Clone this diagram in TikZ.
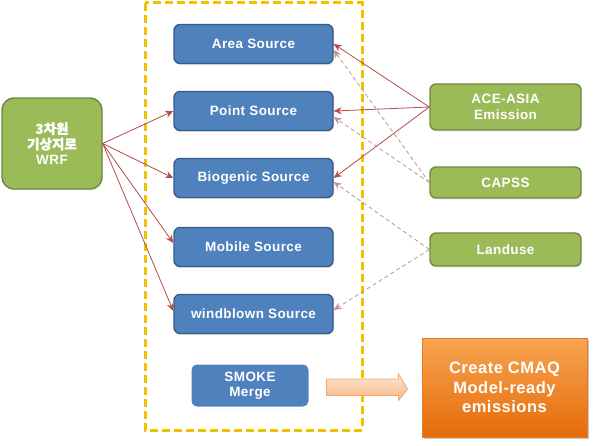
\documentclass[tikz,border=0pt]{standalone}
\usepackage{fontspec}
\setmainfont{Liberation Sans}[LetterSpace=3]
\newfontfamily\kr{Noto Sans CJK KR}[FakeBold=1.5]
\usetikzlibrary{arrows.meta,shadows,calc}
\definecolor{bluefill}{HTML}{4F81BD}
\definecolor{blueedge}{HTML}{385D8A}
\definecolor{greenfill}{HTML}{9BBB59}
\definecolor{greenedge}{HTML}{71893F}
\definecolor{ytrace}{HTML}{F2C100}
\definecolor{redline}{HTML}{B94A4A}
\definecolor{dashline}{HTML}{C09393}
\definecolor{orgtop}{HTML}{F9A451}
\definecolor{orgbot}{HTML}{E46C0A}
\definecolor{peachtop}{HTML}{FDE5D2}
\definecolor{peachbot}{HTML}{F9B887}
\definecolor{peachedge}{HTML}{F5A46A}
\tikzset{
  txt/.style={text=white, font=\fontsize{13.5}{15.5}\selectfont\bfseries, align=center},
  bluebox/.style={txt, rounded corners=6pt, fill=bluefill, draw=blueedge, line width=1.4pt,
     minimum width=159pt, minimum height=39pt, inner sep=0pt,
     drop shadow={opacity=0.25, shadow xshift=1pt, shadow yshift=-1.5pt}},
  greenbox/.style={txt, rounded corners=6pt, fill=greenfill, draw=greenedge, line width=1.4pt,
     minimum width=151pt, inner sep=0pt,
     drop shadow={opacity=0.2, shadow xshift=1pt, shadow yshift=-1.5pt}},
  solidarrow/.style={draw=redline, line width=0.8pt, -{Stealth[length=8pt,width=7pt]}},
  dasharrow/.style={draw=dashline, line width=0.8pt, dash pattern=on 4pt off 3pt,
     -{Stealth[length=8pt,width=7pt]}},
}
\begin{document}
\begin{tikzpicture}[x=1pt,y=-1pt]
\useasboundingbox (0,0) rectangle (594,446);
\draw[ytrace, line width=3pt, dash pattern=on 8pt off 4pt] (145,3) rectangle (362,430);

\node[greenbox, rounded corners=12pt, minimum width=100pt, minimum height=91pt] (wrf) at (52,143.5)
  {{\kr 3차원}\\{\kr 기상지로}\\WRF};

\node[bluebox] (area) at (253.5,44) {Area Source};
\node[bluebox] (point) at (253.5,111) {Point Source};
\node[bluebox] (bio) at (253.5,178) {Biogenic Source};
\node[bluebox] (mobile) at (253.5,247) {Mobile Source};
\node[bluebox] (wind) at (253.5,314) {windblown Source};
\node[txt, rounded corners=7pt, fill=bluefill, draw=white, line width=3pt,
  minimum width=120pt, minimum height=45pt, inner sep=0pt,
  drop shadow={opacity=0.35, shadow xshift=0.5pt, shadow yshift=-1.5pt}] (smoke) at (250,385.5)
  {SMOKE\\Merge};

\node[greenbox, minimum height=46pt] (ace) at (505.5,107) {ACE-ASIA\\Emission};
\node[greenbox, minimum height=31pt] (capss) at (505.5,182.5) {CAPSS};
\node[greenbox, minimum height=33pt] (land) at (505.5,249.5) {Landuse};

\node[text=white, font=\fontsize{16.5}{19.5}\selectfont\bfseries, align=center,
  top color=orgtop, bottom color=orgbot, draw=orgbot!90!white, line width=1pt,
  minimum width=165pt, minimum height=99pt, inner sep=0pt,
  drop shadow={opacity=0.45, shadow xshift=1.5pt, shadow yshift=-2pt}] (cmaq) at (504.5,387.5)
  {Create CMAQ\\Model-ready\\emissions};

% block arrow from SMOKE Merge toward CMAQ
\draw[top color=peachtop, bottom color=peachbot, draw=peachedge, line width=0.8pt]
  ($(smoke.east)+(15,-6.5)$) -- ($(smoke.east)+(87,-6.5)$) -- ($(smoke.east)+(87,-11.5)$)
  -- ($(cmaq.west)+(-14,1.5)$) -- ($(smoke.east)+(87,15)$) -- ($(smoke.east)+(87,10)$)
  -- ($(smoke.east)+(15,10)$) -- cycle;

% WRF arrows
\draw[solidarrow] (wrf.east) -- (point.west);
\draw[solidarrow] (wrf.east) -- (bio.west);
\draw[solidarrow] (wrf.east) -- ([yshift=4pt]mobile.west);
\draw[solidarrow] (wrf.east) -- ([yshift=3pt]wind.west);

% dashed arrows
\draw[dasharrow] (capss.west) -- ([yshift=-6pt]area.east);
\draw[dasharrow] (capss.west) -- ([yshift=-6pt]point.east);
\draw[dasharrow] (land.west) -- ([yshift=-4pt]bio.east);
\draw[dasharrow] (land.west) -- ([yshift=4pt]wind.east);

% ACE-ASIA arrows
\draw[solidarrow] (ace.west) -- (area.east);
\draw[solidarrow] (ace.west) -- (point.east);
\draw[solidarrow] (ace.west) -- (bio.east);
\end{tikzpicture}
\end{document}
